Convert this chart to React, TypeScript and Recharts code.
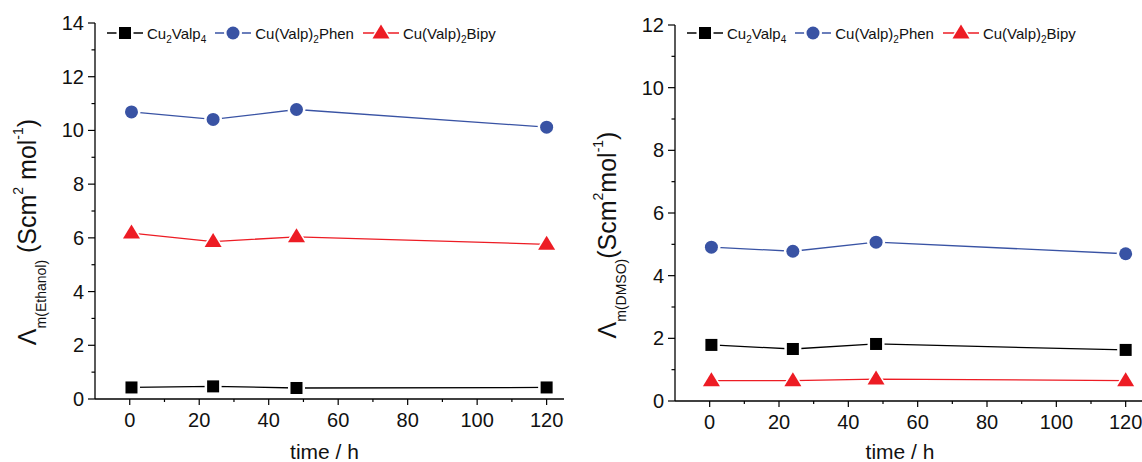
import React from 'react';
import { LineChart, Line, XAxis, YAxis, Legend } from 'recharts';

const FONT = '"Liberation Sans", Arial, sans-serif';

// sampling times (h)
const times = [0.5, 24, 48, 120];

// molar conductivity in ethanol
const ethCu2Valp4 = [0.43, 0.47, 0.41, 0.43];
const ethPhen = [10.69, 10.41, 10.78, 10.12];
const ethBipy = [6.18, 5.86, 6.04, 5.76];

// molar conductivity in DMSO
const dmsoCu2Valp4 = [1.79, 1.66, 1.82, 1.63];
const dmsoPhen = [4.91, 4.78, 5.07, 4.7];
const dmsoBipy = [0.65, 0.65, 0.7, 0.65];

const xTicks = [0, 10, 20, 30, 40, 50, 60, 70, 80, 90, 100, 110, 120];
const yTicksEth = [0, 1, 2, 3, 4, 5, 6, 7, 8, 9, 10, 11, 12, 13, 14];
const yTicksDmso = [0, 1, 2, 3, 4, 5, 6, 7, 8, 9, 10, 11, 12];

const BLACK = '#000000';
const BLUE = '#3953a4';
const RED = '#ed1c24';

const series = [
  { key: 'a', color: BLACK, shape: 'square', main: 'Cu', sub1: '2', mid: 'Valp', sub2: '4', tail: '' },
  { key: 'b', color: BLUE, shape: 'circle', main: 'Cu(Valp)', sub1: '2', mid: 'Phen', sub2: '', tail: '' },
  { key: 'c', color: RED, shape: 'triangle', main: 'Cu(Valp)', sub1: '2', mid: 'Bipy', sub2: '', tail: '' },
];

const buildRows = (a: number[], b: number[], c: number[]) =>
  times.map((t, i) => ({ t, a: a[i], b: b[i], c: c[i] }));

const ethRows = buildRows(ethCu2Valp4, ethPhen, ethBipy);
const dmsoRows = buildRows(dmsoCu2Valp4, dmsoPhen, dmsoBipy);

const Marker = ({ shape, cx, cy, color }: any) => {
  if (shape === 'square') {
    return (
      <g>
        <rect x={cx - 8.5} y={cy - 8.5} width={17} height={17} fill="#fff" />
        <rect x={cx - 6} y={cy - 6} width={12} height={12} fill={color} />
      </g>
    );
  }
  if (shape === 'circle') {
    return (
      <g>
        <circle cx={cx} cy={cy} r={9} fill="#fff" />
        <circle cx={cx} cy={cy} r={6.5} fill={color} />
      </g>
    );
  }
  return (
    <g>
      <polygon
        points={`${cx},${cy - 11.5} ${cx + 11.5},${cy + 7.5} ${cx - 11.5},${cy + 7.5}`}
        fill="#fff"
      />
      <polygon
        points={`${cx},${cy - 8.5} ${cx + 8.5},${cy + 5.5} ${cx - 8.5},${cy + 5.5}`}
        fill={color}
      />
    </g>
  );
};

const makeDot = (shape: string, color: string) => (p: any) => {
  if (p.cx == null || p.cy == null) return <g key={p.index} />;
  return <Marker key={p.index} shape={shape} cx={p.cx} cy={p.cy} color={color} />;
};

const YTick = ({ x, y, payload }: any) => {
  const v = payload.value;
  const major = v % 2 === 0;
  return (
    <g>
      <line x1={x - (major ? 7 : 3.5)} x2={x} y1={y} y2={y} stroke="#000" strokeWidth={1.2} />
      {major && (
        <text x={x - 11} y={y + 7} textAnchor="end" fontSize={20} fontFamily={FONT} fill="#111">
          {v}
        </text>
      )}
    </g>
  );
};

const XTick = ({ x, y, payload }: any) => {
  const v = payload.value;
  const major = v % 20 === 0;
  return (
    <g>
      <line x1={x} x2={x} y1={y} y2={y + (major ? 6 : 3)} stroke="#000" strokeWidth={1.2} />
      {major && (
        <text x={x} y={y + 28} textAnchor="middle" fontSize={20} fontFamily={FONT} fill="#111">
          {v}
        </text>
      )}
    </g>
  );
};

const subStyle: React.CSSProperties = { fontSize: 10, position: 'relative', top: 4 };

const LegendContent = () => (
  <div style={{ display: 'flex', alignItems: 'center', fontFamily: FONT, fontSize: 15, color: '#111', whiteSpace: 'nowrap' }}>
    {series.map((s) => (
      <div key={s.key} style={{ display: 'flex', alignItems: 'center', marginRight: 9 }}>
        <svg width={36} height={18} style={{ display: 'block' }}>
          <line x1={0} x2={36} y1={9} y2={9} stroke={s.color} strokeWidth={1.3} />
          <Marker shape={s.shape} cx={18} cy={9} color={s.color} />
        </svg>
        <span style={{ marginLeft: 4 }}>
          {s.main}
          <span style={subStyle}>{s.sub1}</span>
          {s.mid}
          {s.sub2 && <span style={subStyle}>{s.sub2}</span>}
        </span>
      </div>
    ))}
  </div>
);

const YTitle = ({ viewBox, solvent, gap, dyCenter }: any) => {
  const cx = viewBox.x + 1;
  const cy = viewBox.y + viewBox.height / 2 + dyCenter;
  return (
    <text
      x={cx}
      y={cy}
      transform={`rotate(-90, ${cx}, ${cy})`}
      textAnchor="middle"
      fontFamily={FONT}
      fill="#111"
    >
      <tspan fontSize={25}>Λ</tspan>
      <tspan fontSize={14} dy={10}>{`m(${solvent})`}</tspan>
      <tspan fontSize={25} dy={-10}>{gap ? ' (Scm' : '(Scm'}</tspan>
      <tspan fontSize={14} dy={-13}>2</tspan>
      <tspan fontSize={25} dy={13}>{gap ? ' mol' : 'mol'}</tspan>
      <tspan fontSize={14} dy={-13}>-1</tspan>
      <tspan fontSize={25} dy={13}>)</tspan>
    </text>
  );
};

const XTitle = ({ viewBox, shift }: any) => (
  <text
    x={viewBox.x + viewBox.width / 2 + shift}
    y={459}
    textAnchor="middle"
    fontSize={21}
    fontFamily={FONT}
    fill="#111"
  >
    time / h
  </text>
);

const Panel = ({ rows, yMax, yTicks, solvent, gap, margin, xShift, yShift }: any) => (
  <LineChart width={580} height={462} data={rows} margin={margin}>
    <XAxis
      type="number"
      dataKey="t"
      domain={[-10, 125]}
      ticks={xTicks}
      interval={0}
      tickSize={0}
      tickMargin={0}
      tickLine={false}
      tick={<XTick />}
      height={30}
      axisLine={{ stroke: '#000', strokeWidth: 1.3 }}
      label={{ content: (p: any) => <XTitle viewBox={p.viewBox} shift={xShift} /> }}
    />
    <YAxis
      type="number"
      domain={[0, yMax]}
      ticks={yTicks}
      interval={0}
      tickSize={0}
      tickMargin={0}
      tickLine={false}
      tick={<YTick />}
      width={60}
      axisLine={{ stroke: '#000', strokeWidth: 1.3 }}
      label={{
        content: (p: any) => <YTitle viewBox={p.viewBox} solvent={solvent} gap={gap} dyCenter={yShift} />,
      }}
    />
    <Legend
      layout="horizontal"
      verticalAlign="middle"
      align="center"
      content={<LegendContent />}
      wrapperStyle={{ top: 24, left: 107, width: 'auto' }}
    />
    {series.map((s) => (
      <Line
        key={s.key}
        dataKey={s.key}
        type="linear"
        stroke={s.color}
        strokeWidth={1.3}
        dot={makeDot(s.shape, s.color)}
        activeDot={false}
        isAnimationActive={false}
      />
    ))}
  </LineChart>
);

export default function App() {
  return (
    <div
      style={{
        position: 'absolute',
        left: 0,
        top: 0,
        width: 1142,
        height: 462,
        overflow: 'hidden',
        background: '#fff',
      }}
    >
      <div style={{ position: 'absolute', left: 0, top: 0 }}>
        <Panel
          rows={ethRows}
          yMax={14}
          yTicks={yTicksEth}
          solvent="Ethanol"
          gap
          margin={{ top: 23, right: 16, bottom: 33, left: 35 }}
          xShift={-5}
          yShift={21}
        />
      </div>
      <div style={{ position: 'absolute', left: 580, top: 0 }}>
        <Panel
          rows={dmsoRows}
          yMax={12}
          yTicks={yTicksDmso}
          solvent="DMSO"
          gap={false}
          margin={{ top: 25, right: 17, bottom: 31, left: 35 }}
          xShift={-9}
          yShift={22}
        />
      </div>
    </div>
  );
}
